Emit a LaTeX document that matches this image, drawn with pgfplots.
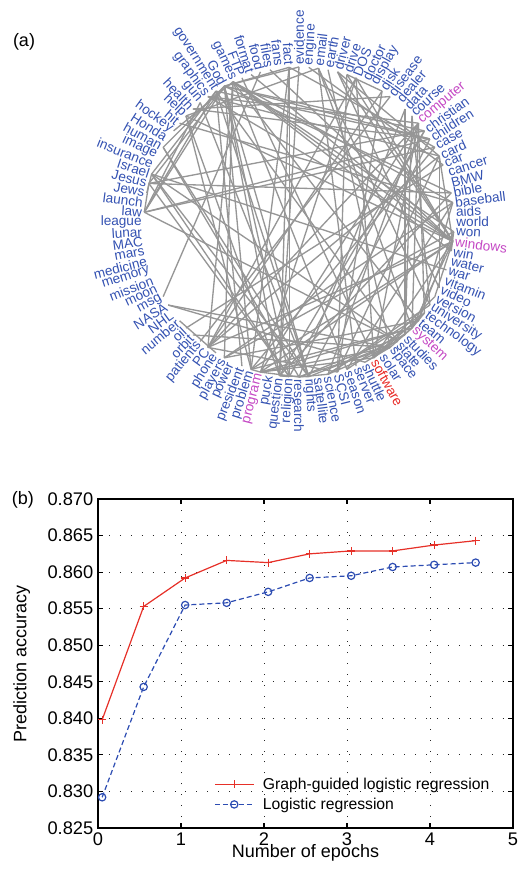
\documentclass[border=0pt]{standalone}
\usepackage{fontspec}
\setmainfont{Liberation Sans}
\usepackage{pgfplots}
\pgfplotsset{compat=1.18}
\definecolor{wb}{RGB}{52,82,178}
\definecolor{wm}{RGB}{196,72,196}
\definecolor{wr}{RGB}{232,40,36}
\definecolor{edgegray}{RGB}{150,150,150}
\definecolor{lred}{RGB}{230,48,40}
\definecolor{lblue}{RGB}{44,76,178}
\newcommand{\wordfont}{\fontsize{10.2}{12}\selectfont}
\newcommand{\tickfont}{\fontsize{13.7}{16}\selectfont}

\newcommand{\E}[2]{\addplot[edgegray, line width=1pt, data cs=polar, forget plot] coordinates {(#1,155) (#2,155)};}

\begin{document}
\begin{tikzpicture}
\path[use as bounding box] (0,0) rectangle (389.25pt,654.75pt);
% ---------------- (a) word graph ----------------
\begin{axis}[at={(0pt,317.25pt)}, anchor=south west,
  width=389.25pt, height=337.5pt, scale only axis,
  xmin=-299, xmax=220, ymin=-228, ymax=222,
  hide axis, clip=false]
\E{118.8}{165.6}\E{118.8}{36}\E{118.8}{10.8}\E{118.8}{266.4}\E{118.8}{262.8}
\E{118.8}{93.6}\E{118.8}{176.4}\E{118.8}{151.2}\E{118.8}{273.6}\E{118.8}{32.4}
\E{118.8}{90}\E{118.8}{252}
\E{115.2}{320.4}\E{115.2}{241.2}\E{115.2}{349.2}\E{115.2}{356.4}\E{115.2}{288}
\E{115.2}{7.2}\E{115.2}{144}\E{115.2}{234}\E{115.2}{352.8}
\E{122.4}{273.6}\E{122.4}{176.4}\E{122.4}{309.6}\E{122.4}{248.4}\E{122.4}{162}\E{122.4}{32.4}
\E{93.6}{262.8}\E{93.6}{266.4}\E{93.6}{28.8}\E{93.6}{252}
\E{82.8}{291.6}\E{82.8}{136.8}\E{82.8}{327.6}\E{82.8}{316.8}
\E{75.6}{352.8}\E{75.6}{25.2}\E{75.6}{334.8}
\E{72}{57.6}\E{72}{284.4}\E{72}{352.8}
\E{68.4}{352.8}\E{68.4}{234}\E{68.4}{255.6}\E{68.4}{298.8}
\E{57.6}{284.4}\E{57.6}{234}
\E{54}{230.4}\E{54}{133.2}
\E{46.8}{270}\E{46.8}{313.2}
\E{43.2}{327.6}\E{43.2}{313.2}
\E{39.6}{280.8}\E{39.6}{298.8}\E{39.6}{316.8}\E{39.6}{255.6}\E{39.6}{126}\E{39.6}{324}\E{39.6}{234}
\E{36}{165.6}\E{36}{266.4}\E{36}{262.8}
\E{32.4}{273.6}\E{32.4}{133.2}\E{32.4}{176.4}
\E{28.8}{176.4}\E{28.8}{252}
\E{25.2}{334.8}\E{25.2}{126}\E{25.2}{234}\E{25.2}{352.8}
\E{21.6}{86.4}\E{21.6}{223.2}
\E{10.8}{165.6}\E{10.8}{262.8}
\E{7.2}{320.4}\E{7.2}{241.2}\E{7.2}{288}\E{7.2}{140.4}
\E{352.8}{100.8}\E{352.8}{255.6}\E{352.8}{298.8}\E{352.8}{316.8}\E{352.8}{331.2}
\E{352.8}{252}\E{352.8}{136.8}\E{352.8}{108}\E{352.8}{126}\E{352.8}{234}
\E{356.4}{349.2}\E{356.4}{320.4}\E{356.4}{241.2}
\E{316.8}{298.8}\E{316.8}{255.6}\E{316.8}{252}\E{316.8}{306}\E{316.8}{324}
\E{298.8}{255.6}\E{298.8}{324}\E{298.8}{331.2}
\E{255.6}{252}\E{255.6}{270}\E{255.6}{306}
\E{262.8}{266.4}\E{262.8}{273.6}\E{262.8}{90}
\E{266.4}{165.6}\E{266.4}{273.6}\E{266.4}{162}
\E{273.6}{151.2}\E{273.6}{162}\E{273.6}{129.6}\E{273.6}{309.6}
\E{284.4}{234}\E{284.4}{25.2}
\E{280.8}{270}\E{280.8}{327.6}\E{280.8}{324}\E{280.8}{306}
\E{306}{212.4}\E{306}{295.2}\E{306}{226.8}\E{306}{270}\E{306}{79.2}
\E{165.6}{176.4}\E{162}{169.2}\E{162}{309.6}\E{162}{342}
\E{176.4}{129.6}\E{176.4}{309.6}
\E{151.2}{270}\E{136.8}{252}\E{136.8}{262.8}
\E{212.4}{295.2}\E{219.6}{237.6}\E{208.8}{104.4}
\E{320.4}{241.2}\E{320.4}{288}\E{313.2}{270}\E{111.6}{298.8}
\addplot[only marks, mark=none, data cs=polar, point meta=explicit symbolic,
  nodes near coords,
  visualization depends on={value \thisrow{rot}\as\wrot},
  visualization depends on={value \thisrow{anc}\as\wanc},
  visualization depends on={value \thisrow{c}\as\wcol},
  every node near coord/.append style={rotate=\wrot, anchor=\wanc, text=\wcol, font=\wordfont, inner xsep=1.6pt, inner ysep=0pt}]
  table[x=ang, y=r, meta=word, row sep=\\]{
ang r rot anc c word\\
3.6 155 3.6 west wb aids\\
7.2 155 7.2 west wb baseball\\
10.8 155 10.8 west wb bible\\
14.4 155 14.4 west wb BMW\\
18 155 18 west wb cancer\\
21.6 155 21.6 west wb car\\
25.2 155 25.2 west wb card\\
28.8 155 28.8 west wb case\\
32.4 155 32.4 west wb children\\
36 155 36 west wb christian\\
39.6 155 39.6 west wm computer\\
43.2 155 43.2 west wb course\\
46.8 155 46.8 west wb data\\
50.4 155 50.4 west wb dealer\\
54 155 54 west wb disease\\
57.6 155 57.6 west wb disk\\
61.2 155 61.2 west wb display\\
64.8 155 64.8 west wb doctor\\
68.4 155 68.4 west wb DOS\\
72 155 72 west wb drive\\
75.6 155 75.6 west wb driver\\
79.2 155 79.2 west wb earth\\
82.8 155 82.8 west wb email\\
86.4 155 86.4 west wb engine\\
90 155 90 west wb evidence\\
93.6 155 -86.4 east wb fact\\
97.2 155 -82.8 east wb fans\\
100.8 155 -79.2 east wb files\\
104.4 155 -75.6 east wb food\\
108 155 -72 east wb format\\
111.6 155 -68.4 east wb FTP\\
115.2 155 -64.8 east wb games\\
118.8 155 -61.2 east wb God\\
122.4 155 -57.6 east wb government\\
126 155 -54 east wb graphics\\
129.6 155 -50.4 east wb gun\\
133.2 155 -46.8 east wb health\\
136.8 155 -43.2 east wb help\\
140.4 155 -39.6 east wb hit\\
144 155 -36 east wb hockey\\
147.6 155 -32.4 east wb Honda\\
151.2 155 -28.8 east wb human\\
154.8 155 -25.2 east wb image\\
158.4 155 -21.6 east wb insurance\\
162 155 -18 east wb Israel\\
165.6 155 -14.4 east wb Jesus\\
169.2 155 -10.8 east wb Jews\\
172.8 155 -7.2 east wb launch\\
176.4 155 -3.6 east wb law\\
180 155 0 east wb league\\
183.6 155 3.6 east wb lunar\\
187.2 155 7.2 east wb MAC\\
190.8 155 10.8 east wb mars\\
194.4 155 14.4 east wb medicine\\
198 155 18 east wb memory\\
201.6 155 21.6 east wb mission\\
205.2 155 25.2 east wb moon\\
208.8 155 28.8 east wb msg\\
212.4 155 32.4 east wb NASA\\
216 155 36 east wb NHL\\
219.6 155 39.6 east wb number\\
223.2 155 43.2 east wb oil\\
226.8 155 46.8 east wb orbit\\
230.4 155 50.4 east wb patients\\
234 155 54 east wb PC\\
237.6 155 57.6 east wb phone\\
241.2 155 61.2 east wb players\\
244.8 155 64.8 east wb power\\
248.4 155 68.4 east wb president\\
252 155 72 east wb problem\\
255.6 155 75.6 east wm program\\
259.2 155 79.2 east wb puck\\
262.8 155 82.8 east wb question\\
266.4 155 86.4 east wb religion\\
270 155 -90 west wb research\\
273.6 155 -86.4 west wb rights\\
277.2 155 -82.8 west wb satellite\\
280.8 155 -79.2 west wb science\\
284.4 155 -75.6 west wb SCSI\\
288 155 -72 west wb season\\
291.6 155 -68.4 west wb server\\
295.2 155 -64.8 west wb shuttle\\
298.8 155 -61.2 west wr software\\
302.4 155 -57.6 west wb solar\\
306 155 -54 west wb space\\
309.6 155 -50.4 west wb state\\
313.2 155 -46.8 west wb studies\\
316.8 155 -43.2 west wm system\\
320.4 155 -39.6 west wb team\\
324 155 -36 west wb technology\\
327.6 155 -32.4 west wb university\\
331.2 155 -28.8 west wb version\\
334.8 155 -25.2 west wb video\\
338.4 155 -21.6 west wb vitamin\\
342 155 -18 west wb war\\
345.6 155 -14.4 west wb water\\
349.2 155 -10.8 west wb win\\
352.8 155 -7.2 west wm windows\\
356.4 155 -3.6 west wb won\\
360 155 0 west wb world\\
};
\node[font=\fontsize{13.5}{16}\selectfont] at (axis cs:-275,180) {(a)};
\end{axis}
% ---------------- (b) accuracy ----------------
\begin{axis}[at={(73.5pt,33.75pt)}, anchor=south west,
  width=311.25pt, height=246.75pt, scale only axis,
  xmin=0, xmax=5, ymin=0.825, ymax=0.870,
  xtick={0,1,2,3,4,5},
  ytick={0.825,0.830,0.835,0.840,0.845,0.850,0.855,0.860,0.865,0.870},
  scaled y ticks=false,
  /pgf/number format/assume math mode=true,
  xticklabel={\tickfont\pgfmathprintnumber{\tick}},
  yticklabel={\tickfont\pgfmathprintnumber[fixed,fixed zerofill,precision=3]{\tick}},
  label style={font=\fontsize{13.5}{16}\selectfont},
  xlabel={Number of epochs}, ylabel={Prediction accuracy},
  xlabel style={at={(axis description cs:0.5,-0.075)}, anchor=center},
  ylabel style={at={(axis description cs:-0.184,0.5)}, anchor=center},
  grid=major,
  major grid style={black!85, line width=0.6pt, dash pattern=on 0.7pt off 7.5pt},
  axis line style={line width=1pt},
  tick style={line width=0.8pt, black},
  major tick length=3.5pt, tick align=inside,
  legend style={draw=none, fill=none, at={(0.27,0.168)}, anchor=north west,
    font=\fontsize{11.8}{14}\selectfont, nodes={inner sep=1.5pt}, row sep=2pt,
    /tikz/every odd column/.append style={column sep=5pt}},
  legend cell align=left,
  legend image code/.code={\draw[mark repeat=2,mark phase=2,#1] plot coordinates {(0pt,0pt) (14.5pt,0pt) (29pt,0pt)};},
  clip=false]
\addplot[lred, line width=0.9pt, mark=+, mark size=3pt, mark options={line width=0.9pt}]
  coordinates {(0.05,0.8398) (0.55,0.8553) (1.05,0.8592) (1.55,0.8616) (2.05,0.8613)
    (2.55,0.8625) (3.05,0.8629) (3.55,0.8629) (4.05,0.8637) (4.55,0.8643)};
\addlegendentry{Graph-guided logistic regression}
\addplot[lblue, line width=0.9pt, dash pattern=on 3.75pt off 2.25pt, mark=o, mark size=2.75pt, mark options={solid, line width=0.9pt}]
  coordinates {(0.05,0.8292) (0.55,0.8443) (1.05,0.8555) (1.55,0.8558) (2.05,0.8573)
    (2.55,0.8592) (3.05,0.8595) (3.55,0.8607) (4.05,0.8610) (4.55,0.8613)};
\addlegendentry{Logistic regression}
\node[font=\fontsize{13.5}{16}\selectfont] at (rel axis cs:-0.181,0.997) {(b)};
\end{axis}
\end{tikzpicture}
\end{document}
